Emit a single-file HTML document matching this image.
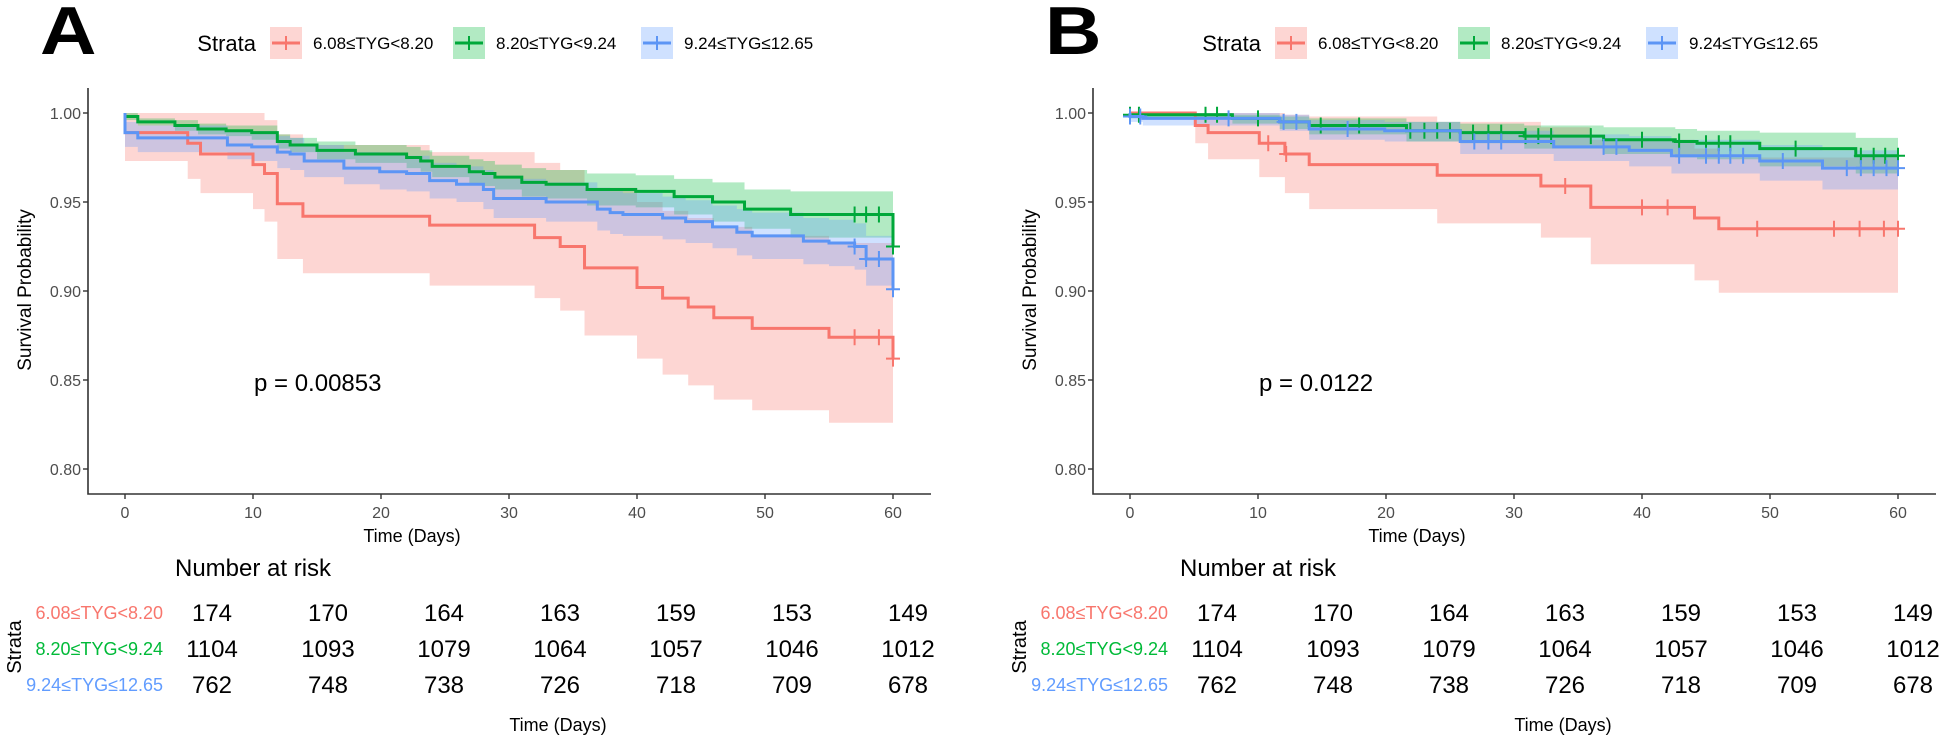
<!DOCTYPE html>
<html><head><meta charset="utf-8">
<style>
html,body{margin:0;padding:0;background:#fff;}
svg{display:block;font-family:"Liberation Sans",Arial,sans-serif;}
</style></head>
<body>
<svg id="chart" width="1955" height="740" viewBox="0 0 1955 740" xmlns="http://www.w3.org/2000/svg"></svg>
<script>
// ---------- Data ----------
const xTicks = [0,10,20,30,40,50,60];
const yTicks = [0.80,0.85,0.90,0.95,1.00];
const yTickLabels = ["0.80","0.85","0.90","0.95","1.00"];
const strataNames = ["6.08≤TYG<8.20","8.20≤TYG<9.24","9.24≤TYG≤12.65"];
const riskTimes = [0,10,20,30,40,50,60];
const riskRed = [174,170,164,163,159,153,149];
const riskGreen = [1104,1093,1079,1064,1057,1046,1012];
const riskBlue = [762,748,738,726,718,709,678];
const pValueA = "p = 0.00853";
const pValueB = "p = 0.0122";

// Panel A
const aRedT = [0,4.9,5.9,10,10.9,11.9,13.9,23.8,32,34,35.9,40,42,44,46,49,55,60];
const aRedS = [0.989,0.983,0.977,0.971,0.966,0.949,0.942,0.937,0.930,0.925,0.913,0.902,0.896,0.891,0.885,0.879,0.874,0.862];
const aRedU = [1.0,1.0,1.0,1.0,0.996,0.988,0.982,0.978,0.972,0.968,0.958,0.950,0.945,0.941,0.936,0.931,0.927,0.921];
const aRedL = [0.973,0.963,0.955,0.946,0.939,0.918,0.910,0.903,0.896,0.889,0.875,0.862,0.853,0.847,0.839,0.833,0.826,0.826];
const aRedC = [57,58.9,60];

const aGreenT = [0,1.0,3.9,5.7,7.9,9.9,11.9,12.9,15,18,22,23.1,24,26.9,28,28.9,31,32.9,36.1,39.9,42.9,45.9,48.4,52,60];
const aGreenS = [0.998,0.995,0.993,0.991,0.990,0.989,0.984,0.982,0.979,0.977,0.975,0.973,0.970,0.967,0.966,0.964,0.961,0.960,0.957,0.956,0.953,0.950,0.946,0.943,0.925];
const aGreenU = [1.0,0.997,0.996,0.994,0.993,0.993,0.988,0.986,0.984,0.982,0.981,0.979,0.976,0.974,0.973,0.971,0.969,0.968,0.966,0.965,0.963,0.961,0.957,0.956,0.938];
const aGreenL = [0.996,0.993,0.990,0.988,0.987,0.985,0.980,0.978,0.974,0.972,0.969,0.967,0.964,0.960,0.959,0.957,0.953,0.952,0.948,0.947,0.943,0.939,0.935,0.930,0.912];
const aGreenC = [57,57.9,58.9,60];

const aBlueT = [0,1.0,8,9.9,11.9,12.9,14,17.1,19.9,22,23.8,25.9,28,28.8,32.9,36.9,37.9,38.9,42,43.8,45.9,47.8,49,53,55,57,57.9,60];
const aBlueS = [0.989,0.986,0.982,0.981,0.978,0.977,0.973,0.969,0.967,0.966,0.962,0.960,0.957,0.952,0.950,0.946,0.944,0.943,0.941,0.939,0.936,0.933,0.931,0.928,0.927,0.925,0.918,0.901];
const aBlueU = [0.995,0.993,0.990,0.989,0.987,0.986,0.982,0.978,0.977,0.976,0.972,0.970,0.968,0.963,0.961,0.958,0.956,0.955,0.953,0.951,0.948,0.946,0.944,0.941,0.940,0.938,0.931,0.915];
const aBlueL = [0.981,0.978,0.974,0.973,0.969,0.968,0.964,0.960,0.957,0.956,0.952,0.950,0.946,0.941,0.939,0.934,0.932,0.931,0.929,0.927,0.924,0.920,0.918,0.915,0.914,0.912,0.903,0.887];
const aBlueC = [57,57.9,58.9,60];

// Panel B
const bRedT = [0,5.1,6.1,10.1,12.1,14,24,32.1,36,44.1,46];
const bRedS = [1.0,0.993,0.989,0.983,0.977,0.971,0.965,0.959,0.947,0.941,0.935];
const bRedU = [1.0,1.0,1.0,1.0,0.999,0.998,0.995,0.992,0.985,0.980,0.975];
const bRedL = [1.0,0.983,0.974,0.964,0.955,0.946,0.938,0.930,0.915,0.906,0.899];
const bRedC = [10.8,12.2,34,40,42,49,55,57,58.9,60];

const bGreenT = [0,8,11.7,14,21.6,25.8,30.8,37,42.6,44.3,49.2,56.7];
const bGreenS = [0.999,0.997,0.995,0.993,0.990,0.989,0.987,0.985,0.984,0.983,0.980,0.976];
const bGreenU = [1.0,0.999,0.998,0.997,0.995,0.994,0.993,0.992,0.991,0.990,0.989,0.986];
const bGreenL = [0.997,0.994,0.991,0.988,0.984,0.983,0.980,0.977,0.975,0.974,0.970,0.966];
const bGreenC = [0,0.7,5.9,6.8,10,14.9,17.9,21.9,23,24,25,26.8,28,29,30.9,31.9,32.9,36,40,42.9,45,46,46.9,52,57.1,58.1,59,60];

const bBlueT = [0,1,11.7,14,19.9,25.8,33.1,39.0,42.3,49.2,54.1];
const bBlueS = [0.998,0.997,0.995,0.991,0.990,0.984,0.981,0.979,0.976,0.973,0.969];
const bBlueU = [1.0,1.0,0.999,0.996,0.995,0.990,0.988,0.987,0.985,0.982,0.979];
const bBlueL = [0.995,0.993,0.990,0.985,0.984,0.977,0.973,0.970,0.966,0.962,0.957];
const bBlueC = [0,0.8,7.7,12,13,17,26.9,28,29,37,38,42.9,45,46,46.9,47.9,51,56,57.1,58.1,59.1,60];

// ---------- Drawing ----------
const NS = "http://www.w3.org/2000/svg";
const svg = document.getElementById("chart");
const COLORS = ["#F8766D","#00BA38","#619CFF"];
const LINECOLORS = ["#F8766D","#00A83A","#5C95F5"];

function mk(tag, attrs, parent){
  const e = document.createElementNS(NS, tag);
  for (const k in attrs) e.setAttribute(k, attrs[k]);
  (parent||svg).appendChild(e);
  return e;
}
function txt(parent, x, y, s, size, fill, anchor, extra){
  const e = mk("text", Object.assign({x:x, y:y, "font-size":size, fill:fill, "text-anchor":anchor||"start"}, extra||{}), parent);
  e.textContent = s;
  return e;
}

function drawPanel(off, label, series, pText, risks){
  const g = mk("g", {});
  
  
  const x = t => off + 125 + t * 12.8;
  const y = v => 113 + (1 - v) * 1780;
  const axL = off + 88, axB = 494, axR = off + 931, axT = 88;

  // panel letter
  const pl = txt(g, 0, 0, label, 68, "#000", "start", {"font-weight":"bold", transform:"translate(" + (off + 40) + ",54) scale(1.15,1)"});
  
  

  // legend
  const lg = mk("g", {}, g);
  
  
  txt(lg, off + 256, 51, "Strata", 22, "#000", "end");
  const keyX = [270, 453, 641], labX = [313, 496, 684];
  for (let i = 0; i < 3; i++){
    const ent = mk("g", {}, lg);
    
    
    mk("rect", {x: off + keyX[i], y: 27, width: 32, height: 32, fill: COLORS[i], "fill-opacity": 0.3}, ent);
    mk("line", {x1: off + keyX[i] + 2, x2: off + keyX[i] + 30, y1: 43, y2: 43, stroke: LINECOLORS[i], "stroke-width": 3}, ent);
    mk("line", {x1: off + keyX[i] + 16, x2: off + keyX[i] + 16, y1: 36, y2: 50, stroke: LINECOLORS[i], "stroke-width": 2}, ent);
    txt(ent, off + labX[i], 49, strataNames[i], 17, "#000");
  }

  // bands
  series.forEach((s, i) => {
    let d = "M" + x(s.T[0]) + "," + y(s.U[0]);
    for (let k = 0; k < s.T.length; k++){
      const tEnd = k + 1 < s.T.length ? s.T[k + 1] : 60;
      d += " H" + x(tEnd) + (k + 1 < s.T.length ? " V" + y(s.U[k + 1]) : "");
    }
    const lowPts = [];
    for (let k = s.T.length - 1; k >= 0; k--){
      lowPts.push(" V" + y(s.L[k]) + " H" + x(s.T[k]));
    }
    d += lowPts.join("") + " Z";
    const b = mk("path", {d: d, fill: COLORS[i], "fill-opacity": 0.3, stroke: "none"}, g);
    
    
  });

  // curves
  series.forEach((s, i) => {
    let d = "M" + x(0) + "," + y(1) + " V" + y(s.S[0]);
    for (let k = 1; k < s.T.length; k++) d += " H" + x(s.T[k]) + " V" + y(s.S[k]);
    if (s.T[s.T.length - 1] < 60) d += " H" + x(60);
    const p = mk("path", {d: d, fill: "none", stroke: LINECOLORS[i], "stroke-width": 3, "stroke-linejoin": "miter"}, g);
    
    
    s.C.forEach(tc => {
      let v = s.S[0];
      for (let k = 0; k < s.T.length; k++) if (s.T[k] <= tc) v = s.S[k];
      const cm = mk("path", {d: "M" + (x(tc) - 7) + "," + y(v) + " H" + (x(tc) + 7) + " M" + x(tc) + "," + (y(v) - 8) + " V" + (y(v) + 8), stroke: LINECOLORS[i], "stroke-width": 2, fill: "none"}, g);
      
      
    });
  });

  // axes
  const ax = mk("path", {d: "M" + axL + "," + axT + " V" + axB + " H" + axR, stroke: "#333", "stroke-width": 1.6, fill: "none"}, g);
  
  
  yTicks.forEach((v, i) => {
    mk("line", {x1: axL - 5, x2: axL, y1: y(v), y2: y(v), stroke: "#333", "stroke-width": 1.4}, g);
    const t = txt(g, axL - 7, y(v) + 6, yTickLabels[i], 16, "#4D4D4D", "end");
    
    
  });
  xTicks.forEach(tv => {
    mk("line", {x1: x(tv), x2: x(tv), y1: axB, y2: axB + 5, stroke: "#333", "stroke-width": 1.4}, g);
    const t = txt(g, x(tv), 518, String(tv), 16, "#4D4D4D", "middle");
    
    
  });
  const yt = txt(g, 0, 0, "Survival Probability", 19, "#000", "middle", {transform: "translate(" + (off + 31) + ",290) rotate(-90)"});
  
  
  const xt = txt(g, off + 412, 542, "Time (Days)", 18, "#000", "middle");
  
  
  const pv = txt(g, off + 254, 391, pText, 24, "#000");
  
  

  // risk table
  const rt = mk("g", {}, g);
  
  
  txt(rt, off + 175, 576, "Number at risk", 24, "#000");
  txt(rt, 0, 0, "Strata", 20, "#000", "middle", {transform: "translate(" + (off + 21) + ",647) rotate(-90)"});
  const rowY = [613, 649, 685];
  const xr = t => off + 212 + t * 11.6;
  risks.forEach((row, r) => {
    txt(rt, off + 163, rowY[r] + 6, strataNames[r], 18, COLORS[r], "end");
    row.forEach((n, c) => {
      const cell = txt(rt, xr(riskTimes[c]), rowY[r] + 8, String(n), 24, "#000", "middle");
      
      
    });
  });
  txt(rt, off + 558, 731, "Time (Days)", 18, "#000", "middle");
}

drawPanel(0, "A", [
  {T: aRedT, S: aRedS, U: aRedU, L: aRedL, C: aRedC},
  {T: aGreenT, S: aGreenS, U: aGreenU, L: aGreenL, C: aGreenC},
  {T: aBlueT, S: aBlueS, U: aBlueU, L: aBlueL, C: aBlueC}
], pValueA, [riskRed, riskGreen, riskBlue]);

drawPanel(1005, "B", [
  {T: bRedT, S: bRedS, U: bRedU, L: bRedL, C: bRedC},
  {T: bGreenT, S: bGreenS, U: bGreenU, L: bGreenL, C: bGreenC},
  {T: bBlueT, S: bBlueS, U: bBlueU, L: bBlueL, C: bBlueC}
], pValueB, [riskRed, riskGreen, riskBlue]);
</script>
</body></html>
